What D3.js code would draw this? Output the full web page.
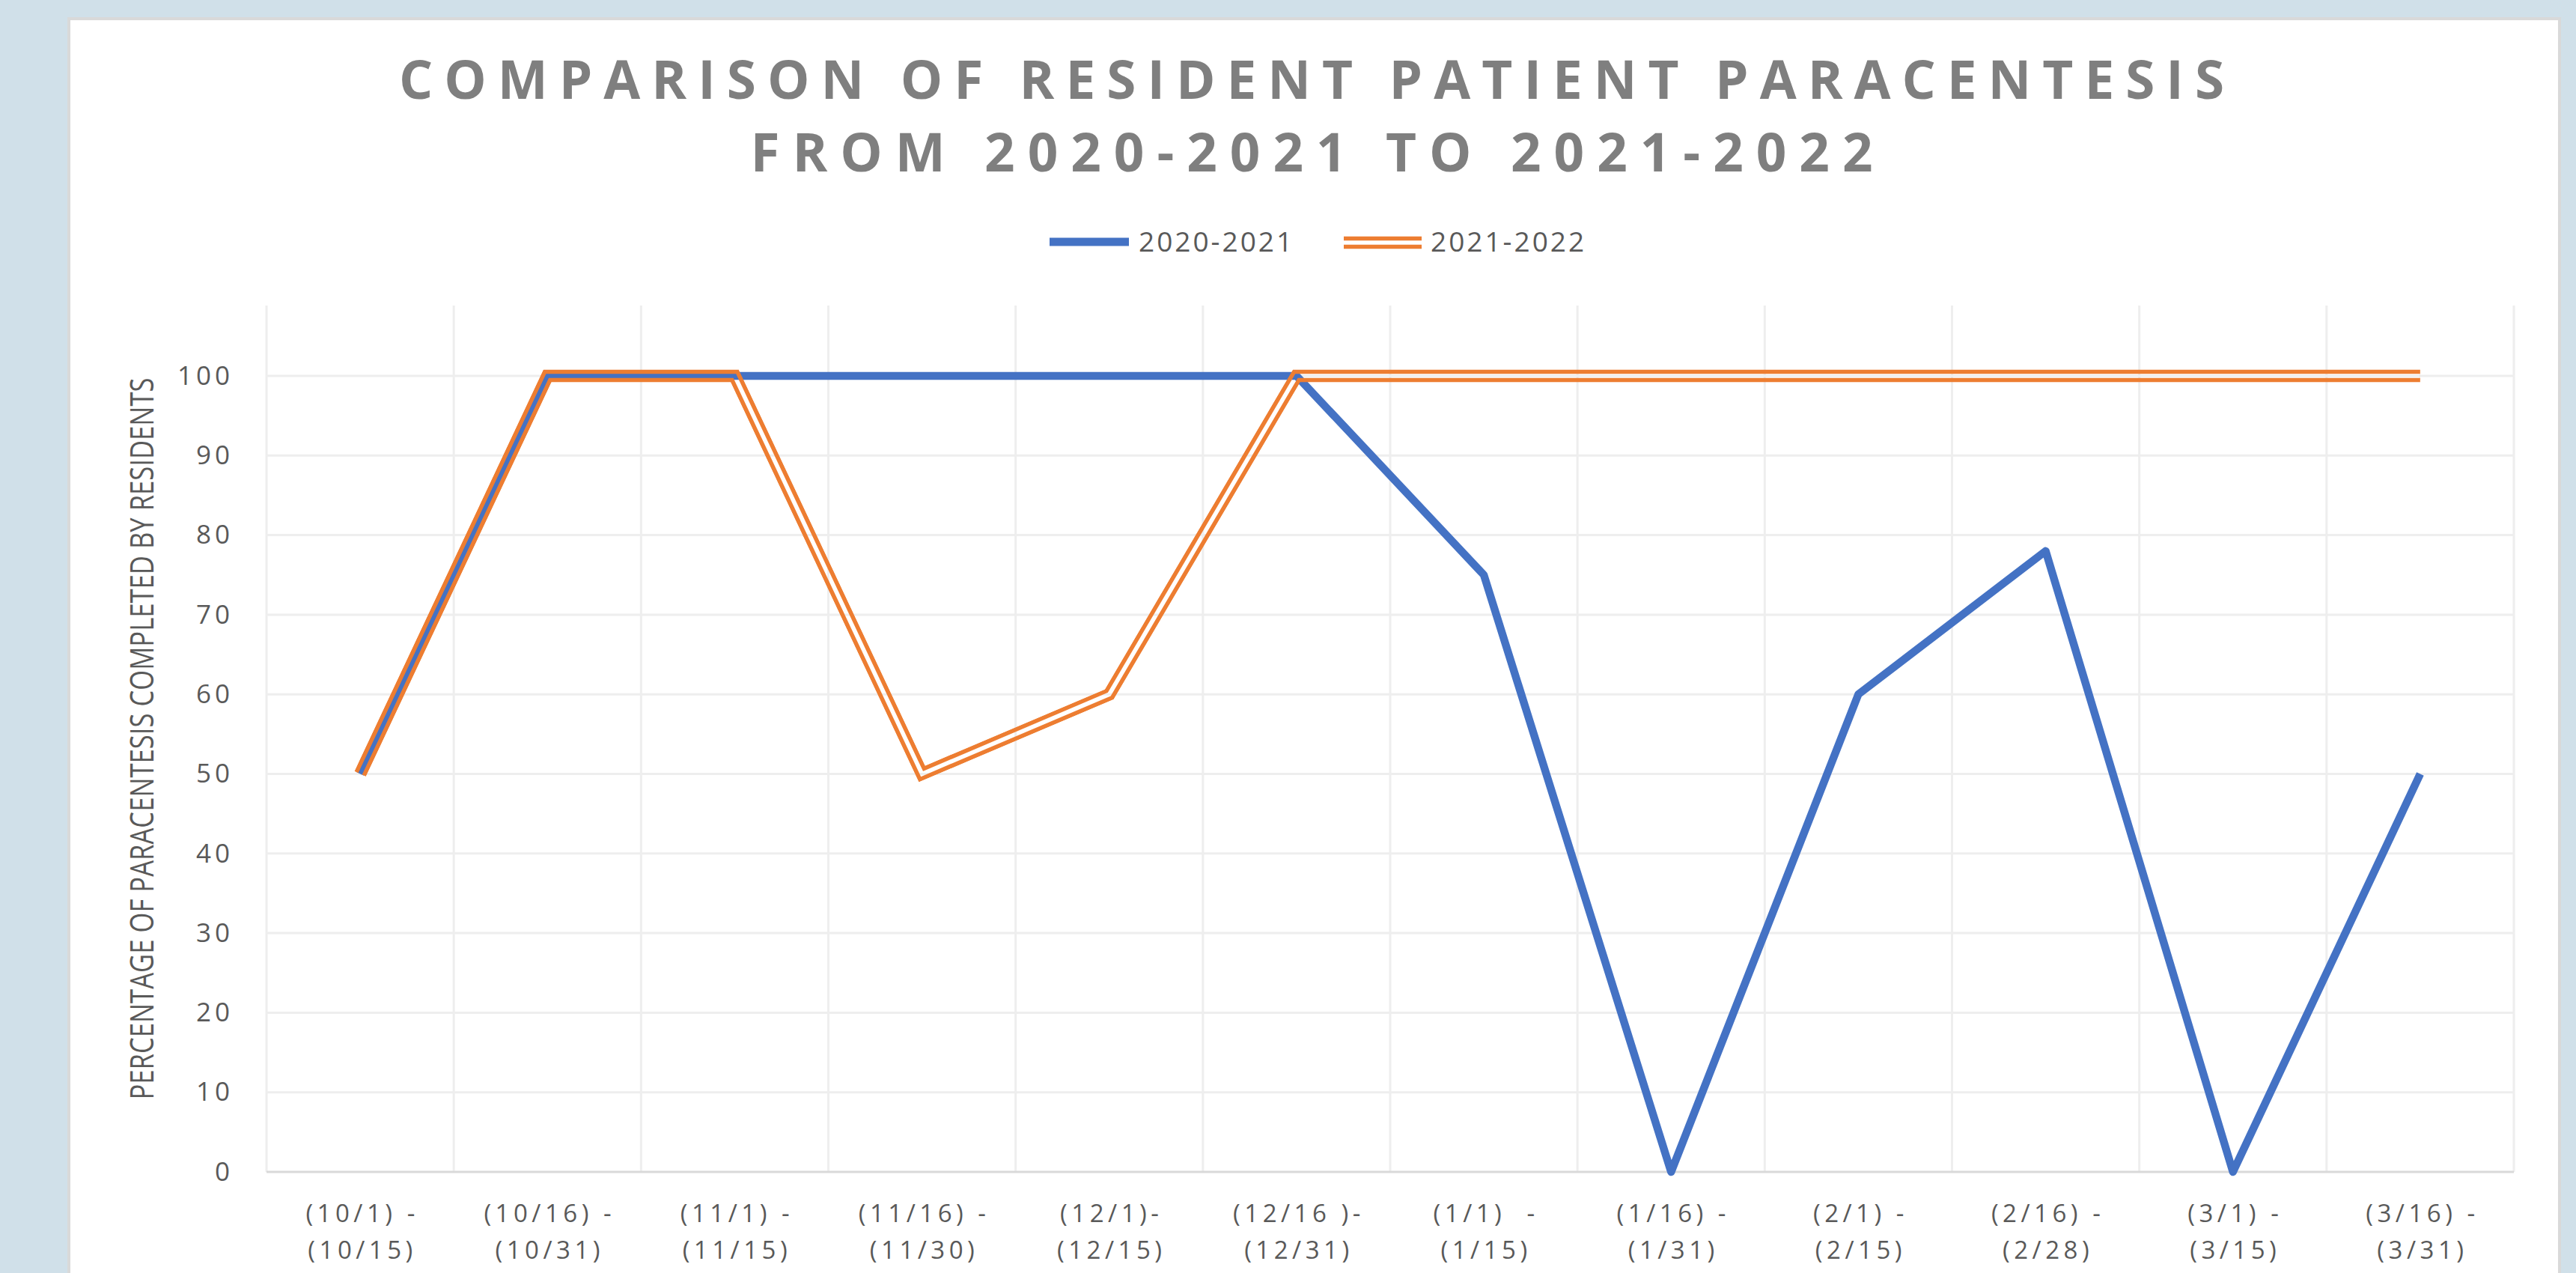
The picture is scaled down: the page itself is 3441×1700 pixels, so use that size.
<!DOCTYPE html>
<html>
<head>
<meta charset="utf-8">
<script src="https://cdn.jsdelivr.net/npm/d3@7"></script>
<style>
  body { margin: 0; background: #d0e0e9; }
  svg { display: block; }
  text { font-family: "Open Sans", sans-serif; }
</style>
</head>
<body>
<svg id="chart"></svg>
<script>
const titleLines = ["COMPARISON OF RESIDENT PATIENT PARACENTESIS", "FROM 2020-2021 TO 2021-2022"];
const yTitle = "PERCENTAGE OF PARACENTESIS COMPLETED BY RESIDENTS";
const categories = [
    "(10/1) -|(10/15)", "(10/16) -|(10/31)", "(11/1) -|(11/15)", "(11/16) -|(11/30)",
    "(12/1)-|(12/15)", "(12/16 )-|(12/31)", "(1/1)  -|(1/15)", "(1/16) -|(1/31)",
    "(2/1) -|(2/15)", "(2/16) -|(2/28)", "(3/1) -|(3/15)", "(3/16) -|(3/31)"
];
const seriesNames = ["2020-2021", "2021-2022"];
const values2021 = [50, 100, 100, 100, 100, 100, 75, 0, 60, 78, 0, 50];
const values2022 = [50, 100, 100, 50, 60, 100, 100, 100, 100, 100, 100, 100];
const yTicks = [0, 10, 20, 30, 40, 50, 60, 70, 80, 90, 100];

const W = 3441, H = 1700;
const blue = "#4472c4", orange = "#ed7d31";
const axisText = "#595959";

const svg = d3.select("#chart").attr("width", W).attr("height", H);
const defs = svg.append("defs");

// white card
svg.append("rect")
    .attr("x", 92).attr("y", 25).attr("width", 3327).attr("height", H)
    .attr("fill", "#fff").attr("stroke", "#d9d9d9").attr("stroke-width", 4);

// title
svg.append("g").selectAll("text")
    .data(titleLines)
    .join("text")
    .attr("x", 1752)
    .attr("y", (d, i) => 132 + i * 97)
    .attr("text-anchor", "middle")
    .attr("font-size", 71)
    .attr("font-weight", 700)
    .attr("fill", "#7f7f7f")
    .attr("textLength", (d, i) => i === 0 ? 2438 : 1499)
    .attr("lengthAdjust", "spacing")
    .text(d => d);

const plotTop = 408;
const x = d3.scaleBand().domain(categories).range([356, 3358]).padding(0);
const y = d3.scaleLinear().domain([0, 100]).range([1565, 502]);
const cx = c => x(c) + x.bandwidth() / 2;

// gridlines
const grid = svg.append("g").attr("stroke", "#eeeeee").attr("stroke-width", 3);
grid.selectAll(".hgrid")
    .data(yTicks.filter(t => t > 0))
    .join("line")
    .attr("x1", x.range()[0]).attr("x2", x.range()[1])
    .attr("y1", d => y(d)).attr("y2", d => y(d));
grid.selectAll(".vgrid")
    .data(categories.map(c => x(c)).concat([x.range()[1]]))
    .join("line")
    .attr("x1", d => d).attr("x2", d => d)
    .attr("y1", plotTop).attr("y2", y(0));

svg.append("line")
    .attr("x1", x.range()[0]).attr("x2", x.range()[1])
    .attr("y1", y(0)).attr("y2", y(0))
    .attr("stroke", "#d9d9d9").attr("stroke-width", 3);

// y axis labels
const yAxis = svg.append("g")
    .attr("transform", `translate(${x.range()[0]},0)`)
    .call(d3.axisLeft(y).tickValues(yTicks).tickSize(0).tickPadding(44));
yAxis.select(".domain").remove();
yAxis.selectAll("text")
    .attr("font-family", "'Open Sans', sans-serif")
    .attr("font-size", 35)
    .attr("letter-spacing", 5)
    .attr("fill", axisText);

// y axis title
svg.append("text")
    .attr("transform", `translate(205,${(plotTop + y(0)) / 2}) rotate(-90)`)
    .attr("text-anchor", "middle")
    .attr("font-size", 43)
    .attr("fill", axisText)
    .attr("textLength", 964)
    .attr("lengthAdjust", "spacingAndGlyphs")
    .text(yTitle);

// x axis labels
const xLabels = svg.append("g").selectAll("text")
    .data(categories)
    .join("text")
    .attr("text-anchor", "middle")
    .attr("font-size", 33)
    .attr("letter-spacing", 5.5)
    .attr("fill", axisText)
    .style("white-space", "pre");
xLabels.selectAll("tspan")
    .data(d => d.split("|").map(t => ({ c: d, t })))
    .join("tspan")
    .attr("x", d => cx(d.c) + 3)
    .attr("y", (d, i) => 1632 + i * 49)
    .text(d => d.t);

const line = d3.line().x((d, i) => cx(categories[i])).y(d => y(d));

function doubleLine(parent, pathD, id) {
    const mask = defs.append("mask").attr("id", id)
        .attr("maskUnits", "userSpaceOnUse")
        .attr("x", 0).attr("y", 0).attr("width", W).attr("height", H);
    mask.append("path").attr("d", pathD).attr("fill", "none")
        .attr("stroke", "#fff").attr("stroke-width", 17).attr("stroke-linejoin", "miter");
    mask.append("path").attr("d", pathD).attr("fill", "none")
        .attr("stroke", "#000").attr("stroke-width", 5.6).attr("stroke-linejoin", "miter");
    parent.append("path").attr("d", pathD).attr("fill", "none")
        .attr("stroke", orange).attr("stroke-width", 17).attr("stroke-linejoin", "miter")
        .attr("mask", `url(#${id})`);
}

// series
svg.append("path")
    .attr("d", line(values2021))
    .attr("fill", "none")
    .attr("stroke", blue)
    .attr("stroke-width", 10.5)
    .attr("stroke-linejoin", "round");

doubleLine(svg, line(values2022), "orange-mask");

// legend
const legend = svg.append("g");
legend.append("line")
    .attr("x1", 1402).attr("x2", 1508).attr("y1", 323).attr("y2", 323)
    .attr("stroke", blue).attr("stroke-width", 11);
doubleLine(legend, "M1795,324H1899", "legend-mask");
legend.selectAll("text")
    .data(seriesNames)
    .join("text")
    .attr("x", (d, i) => i === 0 ? 1521 : 1911)
    .attr("y", 336)
    .attr("font-size", 37)
    .attr("letter-spacing", 3)
    .attr("fill", axisText)
    .text(d => d);
</script>
</body>
</html>
